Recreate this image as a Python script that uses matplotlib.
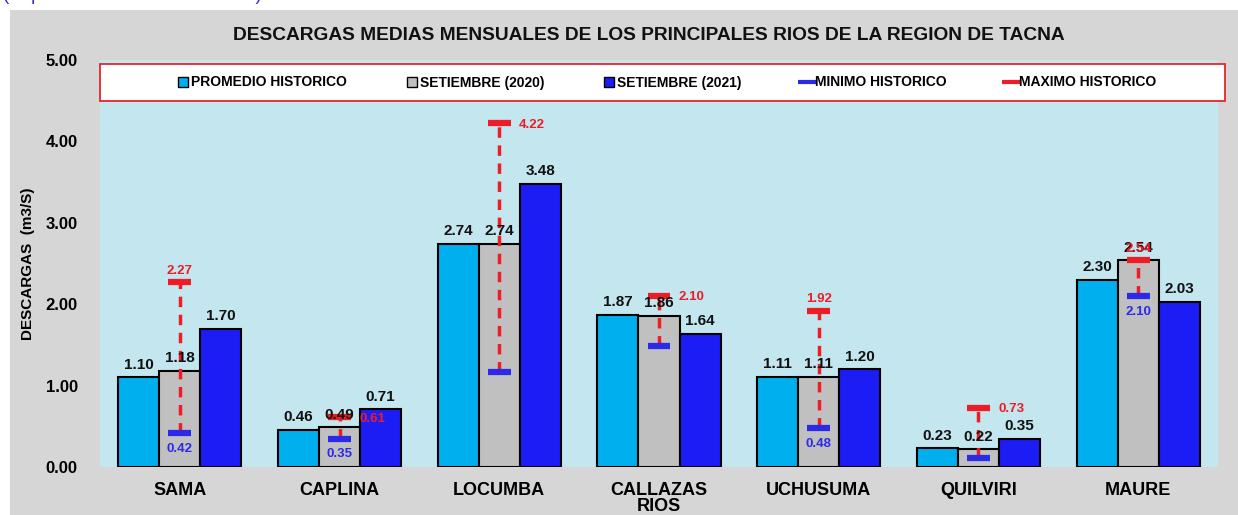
import matplotlib
matplotlib.use("Agg")
import matplotlib.pyplot as plt
from matplotlib.patches import Rectangle
from matplotlib.lines import Line2D
import numpy as np

plt.rcParams['font.family'] = ['Liberation Sans', 'DejaVu Sans']

# ---- data ----
rivers = ["SAMA", "CAPLINA", "LOCUMBA", "CALLAZAS\nRIOS", "UCHUSUMA", "QUILVIRI", "MAURE"]
promedio = [1.10, 0.46, 2.74, 1.87, 1.11, 0.23, 2.30]
set_2020 = [1.18, 0.49, 2.74, 1.86, 1.11, 0.22, 2.54]
set_2021 = [1.70, 0.71, 3.48, 1.64, 1.20, 0.35, 2.03]
minimo = [0.42, 0.35, 1.17, 1.49, 0.48, 0.11, 2.10]
maximo = [2.27, 0.61, 4.22, 2.10, 1.92, 0.73, 2.54]
min_labels = ["0.42", "0.35", "", "", "0.48", "", "2.10"]
max_labels = ["2.27", "0.61", "4.22", "2.10", "1.92", "0.73", "2.54"]
yticks = [0.0, 1.0, 2.0, 3.0, 4.0, 5.0]
series_names = ["PROMEDIO HISTORICO", "SETIEMBRE (2020)", "SETIEMBRE (2021)",
                "MINIMO HISTORICO", "MAXIMO HISTORICO"]

# ---- style ----
c_prom = '#00b0ee'
c_2020 = '#c0c0c0'
c_2021 = '#1c1cf5'
c_min = '#2a2ae8'
c_max = '#ee1c24'
max_pos = ["above", "right", "right", "right", "above", "right", "above"]

W, H = 1238, 515
fig = plt.figure(figsize=(W / 100, H / 100), dpi=100)
fig.patch.set_facecolor('white')

# grey framed background
fig.add_artist(Rectangle((10 / W, 0), 1 - 10 / W, 1 - 10 / H, transform=fig.transFigure,
                         facecolor='#d6d6d6', edgecolor='none', zorder=-5))

ax = fig.add_axes([100 / W, 1 - 467 / H, 1118 / W, 407 / H])
ax.set_facecolor('#c3e6ef')
for s in ax.spines.values():
    s.set_visible(False)

x = np.arange(len(rivers)) + 0.5
bw = 0.257
ax.bar(x - bw, promedio, bw, color=c_prom, edgecolor='black', linewidth=1.5, zorder=2)
ax.bar(x, set_2020, bw, color=c_2020, edgecolor='black', linewidth=1.5, zorder=2)
ax.bar(x + bw, set_2021, bw, color=c_2021, edgecolor='black', linewidth=1.5, zorder=2)

for xs, vals in ((x - bw, promedio), (x, set_2020), (x + bw, set_2021)):
    for xi, v in zip(xs, vals):
        ax.annotate(f"{v:.2f}", (xi, v), xytext=(0, 4), textcoords='offset points',
                    ha='center', va='bottom', fontsize=11, fontweight='bold',
                    color='#111111', zorder=6)

hw = 0.072
for i, xi in enumerate(x):
    ax.plot([xi, xi], [minimo[i], maximo[i]], color=c_max, lw=2.5,
            dashes=(3, 2.2), zorder=4)
    ax.hlines(maximo[i], xi - hw, xi + hw, color=c_max, lw=4.5, zorder=5)
    ax.hlines(minimo[i], xi - hw, xi + hw, color=c_min, lw=4.5, zorder=5)
    if max_labels[i]:
        if max_pos[i] == "above":
            ax.annotate(max_labels[i], (xi, maximo[i]), xytext=(0, 4),
                        textcoords='offset points', ha='center', va='bottom',
                        fontsize=9.5, fontweight='bold', color=c_max, zorder=7)
        else:
            ax.annotate(max_labels[i], (xi + hw, maximo[i]), xytext=(6, -1),
                        textcoords='offset points', ha='left', va='center',
                        fontsize=9.5, fontweight='bold', color=c_max, zorder=7)
    if min_labels[i]:
        ax.annotate(min_labels[i], (xi, minimo[i]), xytext=(0, -7),
                    textcoords='offset points', ha='center', va='top',
                    fontsize=9.5, fontweight='bold', color=c_min, zorder=7)

ax.set_xlim(0, len(rivers))
ax.set_ylim(0, 5)
ax.set_yticks(yticks)
ax.set_yticklabels([f"{t:.2f}" for t in yticks], fontsize=12, fontweight='bold')
ax.set_xticks(x)
ax.set_xticklabels(rivers, fontsize=13, fontweight='bold', linespacing=0.9)
ax.tick_params(axis='both', length=0)
ax.tick_params(axis='y', pad=16)
ax.tick_params(axis='x', pad=11)
ax.set_ylabel("DESCARGAS  (m3/S)", fontsize=11, fontweight='bold', labelpad=8)

fig.text(649 / W, 1 - 35 / H,
         "DESCARGAS MEDIAS MENSUALES DE LOS PRINCIPALES RIOS DE LA REGION DE TACNA",
         ha='center', va='center', fontsize=13.8, fontweight='bold', color='#111111')

fig.text(3 / W, 1.0, "(Expresado en metros cúbicos)", ha='left', va='baseline',
         fontsize=13.5, color='#2d2dd8')

# legend box
fig.add_artist(Rectangle((100 / W, 1 - 101 / H), 1125 / W, 37 / H, transform=fig.transFigure,
                         facecolor='white', edgecolor='#e0262e', lw=1.3, zorder=3))
handles = [
    Line2D([], [], marker='s', ls='none', markersize=7.5, mfc=c_prom, mec='black', mew=1),
    Line2D([], [], marker='s', ls='none', markersize=7.5, mfc=c_2020, mec='black', mew=1),
    Line2D([], [], marker='s', ls='none', markersize=7.5, mfc=c_2021, mec='black', mew=1),
    Line2D([], [], marker='_', ls='none', markersize=13, mec=c_min, mew=3),
    Line2D([], [], marker='_', ls='none', markersize=13, mec=c_max, mew=3),
]
leg = fig.legend(handles, series_names, loc='center', bbox_to_anchor=(667 / W, 1 - 82.5 / H),
                 ncol=5, frameon=False, handlelength=0.8, handletextpad=0.15,
                 columnspacing=4.3, prop={'weight': 'bold', 'size': 10})
leg.set_zorder(6)

fig.savefig("out.png", dpi=100)
